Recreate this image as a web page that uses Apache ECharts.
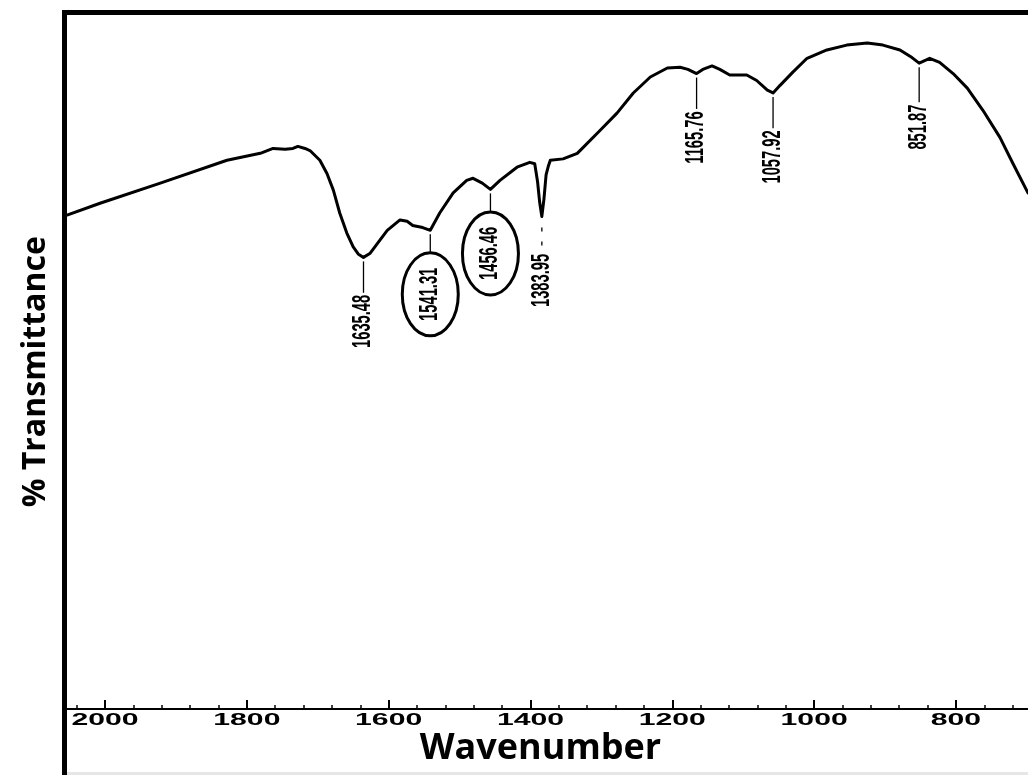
<!DOCTYPE html>
<html><head><meta charset="utf-8">
<script src="https://cdn.jsdelivr.net/npm/echarts@6/dist/echarts.min.js"></script>
<style>html,body{margin:0;padding:0;background:#fff}#c{width:1028px;height:775px}</style>
</head><body><div id="c"></div>
<script>
// ---- data ----
const wavenumbers = [2053.6, 2007, 1922, 1828, 1781, 1763, 1746, 1735, 1728, 1718, 1711, 1697, 1687, 1678, 1669, 1659, 1650, 1643, 1635.5, 1626, 1616, 1602, 1584, 1574, 1566, 1552, 1541.3, 1528, 1509, 1490, 1481, 1468, 1456.5, 1443, 1419, 1401, 1394, 1390, 1387, 1384, 1381, 1378, 1375, 1372, 1354, 1334, 1302, 1278, 1255, 1231, 1207, 1189, 1178, 1165.8, 1157, 1144, 1133, 1119, 1095, 1081, 1066, 1057.9, 1048, 1030, 1010, 982, 954, 925, 903, 879, 862, 851.9, 837, 823, 804, 784, 762, 738, 720, 698.5];
const transmittance = [71.2, 72.9, 75.8, 79.1, 80.1, 80.8, 80.7, 80.8, 81.1, 80.8, 80.5, 79.1, 77.2, 74.8, 71.5, 68.6, 66.6, 65.6, 65.1, 65.7, 67.1, 69.0, 70.5, 70.3, 69.7, 69.4, 69.0, 71.5, 74.4, 76.2, 76.5, 75.8, 74.9, 76.2, 78.1, 78.8, 78.6, 76.0, 73.0, 71.0, 73.5, 77.0, 78.2, 79.1, 79.3, 80.1, 83.4, 85.9, 88.8, 91.1, 92.4, 92.5, 92.2, 91.6, 92.2, 92.7, 92.2, 91.4, 91.4, 90.6, 89.2, 88.8, 89.9, 91.8, 93.8, 95.0, 95.7, 96.0, 95.7, 95.0, 93.9, 93.1, 93.8, 93.2, 91.6, 89.5, 86.3, 82.4, 78.7, 74.4];
const majorTicks = [2000, 1800, 1600, 1400, 1200, 1000, 800];
const tickLabels = ['2000', '1800', '1600', '1400', '1200', '1000', '800'];
const minorTicks = [2040, 1960, 1920, 1880, 1840, 1760, 1720, 1680, 1640, 1560, 1520, 1480, 1440, 1360, 1320, 1280, 1240, 1160, 1120, 1080, 1040, 960, 920, 880, 840, 760, 720];
const peakWavenumbers = [1635.48, 1541.31, 1456.46, 1383.95, 1165.76, 1057.92, 851.87];
const peakLabels = ['1635.48', '1541.31', '1456.46', '1383.95', '1165.76', '1057.92', '851.87'];
const peakTransmittance = [65.1, 69.0, 74.9, 71.0, 91.6, 88.8, 93.1];
const peakCircled = [false, true, true, false, false, false, false];
const xTitle = 'Wavenumber';
const yTitle = '% Transmittance';

// ---- rendering ----
const X_MIN = 698.4, X_MAX = 2053.6;
const chart = echarts.init(document.getElementById('c'), null, {renderer: 'canvas'});
const curve = wavenumbers.map((w, i) => [w, transmittance[i]]);
const dashedLeader = [false, false, false, true, false, false, false];

const option = {
  animation: false,
  backgroundColor: '#fff',
  grid: {left: 67, right: 0, top: 12.5, bottom: 66},
  xAxis: [{
    type: 'value', inverse: true, min: X_MIN, max: X_MAX, position: 'bottom',
    axisLine: {show: true, onZero: false, lineStyle: {color: '#000', width: 2}},
    axisTick: {show: true, inside: true, length: 9, lineStyle: {color: '#000', width: 2}, customValues: majorTicks},
    axisLabel: {show: false}, splitLine: {show: false},
    name: xTitle, nameLocation: 'middle', nameGap: 21.5,
    nameTextStyle: {fontFamily: 'Open Sans', fontWeight: 'bold', fontSize: 36, color: '#000', padding: [0, 14, 0, 0]}
  }, {
    type: 'value', inverse: true, min: X_MIN, max: X_MAX, position: 'bottom',
    axisLine: {show: false, onZero: false},
    axisTick: {show: true, inside: true, length: 4, lineStyle: {color: '#000', width: 1.5}, customValues: minorTicks},
    axisLabel: {show: false}, splitLine: {show: false}
  }],
  yAxis: {
    type: 'value', min: 0, max: 100.4,
    axisLine: {show: false}, axisTick: {show: false}, axisLabel: {show: false}, splitLine: {show: false},
    name: yTitle, nameLocation: 'middle', nameGap: 15,
    nameTextStyle: {fontFamily: 'Open Sans', fontWeight: 'bold', fontSize: 32, color: '#000', padding: [0, 22, 0, 0]}
  },
  graphic: [
    {type: 'rect', left: 62, top: 10, shape: {width: 5, height: 765}, style: {fill: '#000'}},
    {type: 'rect', left: 62, top: 10, shape: {width: 966, height: 5}, style: {fill: '#000'}},
    {type: 'rect', left: 67, top: 772, shape: {width: 961, height: 3}, style: {fill: '#e6e6e6'}}
  ],
  series: [{
    type: 'line', data: curve, showSymbol: false, symbol: 'none',
    lineStyle: {color: '#000', width: 3, join: 'round', cap: 'round'}, z: 3
  }, {
    type: 'custom', clip: false, z: 4,
    data: majorTicks.map(v => [v, 0]),
    renderItem: function (params, api) {
      const p = api.coord([api.value(0), 0]);
      return {type: 'text', x: p[0], y: p[1] + 11, scaleX: 1.8,
        style: {text: tickLabels[params.dataIndex], font: 'bold 16.8px "Liberation Sans", Arial, sans-serif', fill: '#000', align: 'center', verticalAlign: 'middle'}};
    }
  }, {
    type: 'custom', clip: false, z: 5,
    data: peakWavenumbers.map((w, i) => [w, peakTransmittance[i]]),
    renderItem: function (params, api) {
      const i = params.dataIndex;
      const p = api.coord([api.value(0), api.value(1)]);
      const label = peakLabels[i];
      const cy = p[1] + 64;
      const children = [];
      let end;
      if (peakCircled[i]) {
        end = cy - 41.5;
        children.push({type: 'ellipse', shape: {cx: p[0], cy: cy, rx: 28, ry: 41.5}, style: {fill: 'none', stroke: '#000', lineWidth: 3}});
      } else {
        end = cy - label.length * 3.8 - 2;
      }
      children.push({type: 'line', shape: {x1: p[0], y1: p[1] + (dashedLeader[i] ? 11 : 4), x2: p[0], y2: end},
        style: {stroke: '#000', lineWidth: 1.3, lineDash: dashedLeader[i] ? [4, 10] : null}});
      children.push({type: 'text', x: p[0], y: cy, rotation: Math.PI / 2, scaleY: 1.7,
        style: {text: label, font: 'bold 14.7px "Liberation Sans", Arial, sans-serif', fill: '#000', align: 'center', verticalAlign: 'middle'}});
      return {type: 'group', children: children};
    }
  }]
};
chart.setOption(option);
</script></body></html>
